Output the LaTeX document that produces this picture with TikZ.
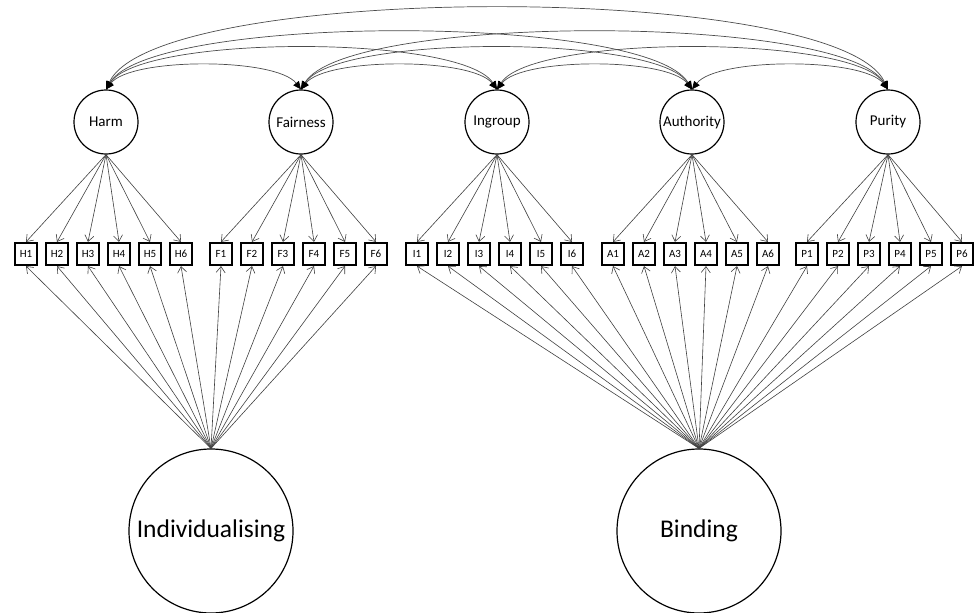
\documentclass[tikz,border=0pt]{standalone}
\usepackage{fontspec}
\setmainfont{Carlito}
\usetikzlibrary{arrows.meta}
\begin{document}
\begin{tikzpicture}[x=1pt,y=-1pt,
  lat/.style={circle,draw,line width=1.2pt,minimum size=64pt,inner sep=0pt,font=\fontsize{15}{17}\selectfont},
  big/.style={circle,draw,line width=1.2pt,minimum size=164pt,inner sep=0pt,font=\fontsize{25.5}{28}\selectfont},
  ind/.style={draw,line width=1.7pt,minimum width=21.5pt,minimum height=22.5pt,inner sep=0pt,font=\fontsize{11}{12}\selectfont},
  load/.style={draw=black!75,line width=0.6pt,-{Straight Barb[length=6pt,width=9pt]}},
  cor/.style={draw=black!70,line width=0.7pt,{Triangle[length=8pt,width=7pt,black]}-{Triangle[length=8pt,width=7pt,black]}}
]
\useasboundingbox (0,0) rectangle (980,613);
\node[lat] (Harm) at (106,122) {Harm};
\node[lat] (Fair) at (301,122) {Fairness};
\node[lat] (Ing) at (497,122) {Ingroup};
\node[lat] (Auth) at (692,122) {Authority};
\node[lat] (Pur) at (888,122) {Purity};
\node[big] (Indiv) at (211,531) {Individualising};
\node[big] (Bind) at (699,531) {Binding};
\foreach \p/\s in {H/26,F/221,I/417,A/613,P/807}{
  \foreach \k in {1,...,6}{
    \node[ind] (\p\k) at ({\s+31*(\k-1)},254) {\p\k};
  }
}
\foreach \c/\p in {Harm/H,Fair/F,Ing/I,Auth/A,Pur/P}{
  \foreach \k in {1,...,6}{
    \draw[load] (\c.south) -- (\p\k.north);
  }
}
\foreach \p in {H,F}{
  \foreach \k in {1,...,6}{
    \draw[load] (Indiv.north) -- (\p\k.south);
  }
}
\foreach \p in {I,A,P}{
  \foreach \k in {1,...,6}{
    \draw[load] (Bind.north) -- (\p\k.south);
  }
}
% correlations
\draw[cor] (Harm.north) .. controls +(25,-32) and +(-25,-32) .. (Fair.north);
\draw[cor] (Fair.north) .. controls +(25,-32) and +(-25,-32) .. (Ing.north);
\draw[cor] (Ing.north) .. controls +(25,-32) and +(-25,-32) .. (Auth.north);
\draw[cor] (Auth.north) .. controls +(25,-32) and +(-25,-32) .. (Pur.north);
\draw[cor] (Harm.north) .. controls +(35,-55) and +(-35,-55) .. (Ing.north);
\draw[cor] (Fair.north) .. controls +(35,-55) and +(-35,-55) .. (Auth.north);
\draw[cor] (Ing.north) .. controls +(35,-55) and +(-35,-55) .. (Pur.north);
\draw[cor] (Harm.north) .. controls +(45,-76) and +(-45,-76) .. (Auth.north);
\draw[cor] (Fair.north) .. controls +(45,-76) and +(-45,-76) .. (Pur.north);
\draw[cor] (Harm.north) .. controls +(50,-108) and +(-50,-108) .. (Pur.north);
\end{tikzpicture}
\end{document}
